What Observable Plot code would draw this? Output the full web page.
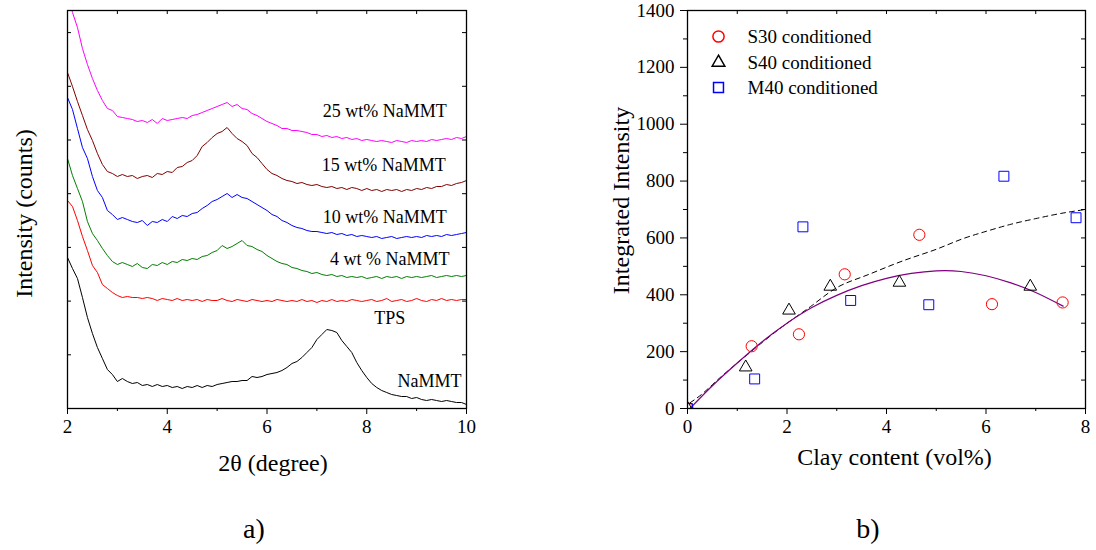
<!DOCTYPE html>
<html><head><meta charset="utf-8">
<script src="https://cdn.jsdelivr.net/npm/d3@7"></script>
<script src="https://cdn.jsdelivr.net/npm/@observablehq/plot@0.6"></script>
<style>
body{margin:0;background:#fff;font-family:"Liberation Serif","Times New Roman",serif;}
#wrap{position:relative;width:1096px;height:550px;overflow:hidden;}
#pa,#pb{position:absolute;top:0;}
#pa{left:0}#pb{left:548px}
.cap{position:absolute;top:515px;font-size:28px;line-height:1;transform:translateX(-50%);}
</style></head><body>
<div id="wrap"><div id="pa"></div><div id="pb"></div>
<div class="cap" style="left:254px">a)</div><div class="cap" style="left:868px">b)</div></div>
<script>
// ---------- panel a) XRD patterns ----------
const theta = [2.0,2.1,2.2,2.3,2.4,2.5,2.6,2.7,2.8,2.9,3.0,3.1,3.2,3.3,3.4,3.5,3.6,3.7,3.8,3.9,4.0,4.1,4.2,4.3,4.4,4.5,4.6,4.7,4.8,4.9,5.0,5.1,5.2,5.3,5.4,5.5,5.6,5.7,5.8,5.9,6.0,6.1,6.2,6.3,6.4,6.5,6.6,6.7,6.8,6.9,7.0,7.1,7.2,7.3,7.4,7.5,7.6,7.7,7.8,7.9,8.0,8.1,8.2,8.3,8.4,8.5,8.6,8.7,8.8,8.9,9.0,9.1,9.2,9.3,9.4,9.5,9.6,9.7,9.8,9.9,10.0];
const mmt25 = [420,396,381,360,344,330,318,308,300,298, 292,291,290,289,287,288,286,289,285,290, 288,289,290,291,290,293,294,296,298,300, 302,304,306,302,304,300,299,295,293,290, 287,285,283,280,280,278,278,277,276,274, 274,272,273,271,272,270,271,269,270,268, 269,268,267,268,267,266,268,267,266,268, 267,268,267,269,268,269,270,269,271,270, 272];
const mmt15 = [336,322,307,293,279,268,255,244,237,235, 232,234,232,233,230,232,233,231,235,234, 237,236,241,242,246,248,253,262,266,271, 275,277,281,275,270,267,263,255,251,245, 239,235,233,230,228,227,225,226,224,223, 224,222,221,222,220,221,219,221,220,218, 220,218,219,217,219,218,219,217,219,218, 220,219,221,220,222,222,224,223,225,226, 228];
const mmt10 = [311,299,280,261,250,232,218,211,198,194, 189,191,189,187,186,188,183,187,186,189, 187,192,190,193,192,195,196,200,203,207, 209,212,215,211,214,211,210,207,204,201, 198,194,192,188,186,183,181,180,178,177, 177,176,175,176,174,175,173,174,172,173, 172,171,172,170,171,172,170,171,172,171, 172,171,173,172,173,172,174,173,174,175, 176];
const mmt4 = [250,233,220,207,187,175,168,160,153,147, 144,146,144,142,145,141,140,144,143,146, 144,147,146,149,148,150,149,152,153,156, 158,163,160,162,165,168,163,162,159,157, 153,150,147,145,144,141,140,138,137,135, 136,134,133,134,132,133,131,132,131,132, 130,131,132,130,132,131,132,130,132,131, 132,131,132,133,131,132,133,132,133,132, 133];
const tps = [208,202,188,172,158,143,136,124,120,116, 113,111,112,111,111,110,111,110,108,110, 109,108,110,108,109,108,109,107,109,108, 108,110,108,107,109,108,107,109,108,107, 108,107,109,108,107,108,107,109,107,108, 106,108,107,109,107,108,107,109,108,107, 108,109,107,108,110,107,108,109,107,108, 110,108,107,109,108,110,108,109,108,109, 109];
const nammt = [151,140,130,111,91,75,61,50,39,34, 27,30,27,25,26,23,24,22,24,22, 23,21,22,20,22,21,23,21,23,22, 24,25,26,27,27,28,28,32,31,32, 34,35,36,38,41,45,47,51,56,61, 69,74,79,78,76,68,62,56,46,38, 31,25,21,18,16,14,13,12,12,10, 11,9,8,9,8,7,8,7,6,6, 4];

const seriesNames = ["25 wt% NaMMT","15 wt% NaMMT","10 wt% NaMMT","4 wt % NaMMT","TPS","NaMMT"];
const seriesColors = ["#ff00ff","#800000","#0000ff","#008000","#ff0000","#000000"];
const seriesValues = [mmt25, mmt15, mmt10, mmt4, tps, nammt];
const labelX = [8.36, 8.34, 8.36, 8.46, 8.46, 9.26];
const labelY = [297, 243, 191, 149, 90, 27];

const xTicksA = [2,4,6,8,10];
const xMinorA = [3,5,7,9];
const xTopA = [3,4,5,6,7,8,9];
const yTicksA = [53.7,107.4,161.1,214.8,268.5,322.2,375.9];

// ---------- panel b) integrated intensity ----------
const s30X = [0, 1.29, 2.24, 3.16, 4.66, 6.12, 7.54];
const s30Y = [0, 219, 261, 472, 611, 367, 373];
const s40X = [0, 1.17, 2.04, 2.87, 4.26, 6.89];
const s40Y = [0, 145, 345, 429, 443, 429];
const m40X = [0, 1.35, 2.32, 3.28, 4.85, 6.36, 7.81];
const m40Y = [0, 104, 639, 380, 365, 817, 671];
const fitX = [0.05,0.5,1.0,1.5,2.0,2.5,3.0,3.5,4.0,4.5,5.0,5.5,6.0,6.5,7.0,7.55];
const fitY = [0,80,160,235,300,355,398,432,458,475,484,482,467,442,408,360];
const dashX = [0.05,0.3,0.6,1.0,1.5,2.0,2.5,3.0,3.5,4.0,4.5,5.0,5.5,6.0,6.5,7.0,7.5,8.0];
const dashY = [20,52,100,160,232,300,362,425,462,497,530,560,595,623,648,668,686,700];
const legendNames = ["S30 conditioned","S40 conditioned","M40 conditioned"];
const xTicksB = [0,2,4,6,8];
const xMinorB = [1,3,5,7];
const yTicksB = [0,200,400,600,800,1000,1200,1400];
const yMinorB = [100,300,500,700,900,1100,1300];
const xTopB = [1,2,3,4,5,6,7];
const yRightB = [100,200,300,400,500,600,700,800,900,1000,1100,1200,1300];

const FONT = "'Liberation Serif','Times New Roman',serif";
const W = 548, H = 480;
const style = {fontFamily: FONT, fontSize: "19px", color: "#000", background: "#fff", overflow: "visible"};
const zip = (xs, ys) => xs.map((x, i) => ({x, y: ys[i]}));

// panel a
const pw = 399, ph = 398;
const marksA = seriesValues.map((vals, k) =>
  Plot.line(theta.map((t, i) => ({t, v: vals[i]})), {x: "t", y: "v", stroke: seriesColors[k], strokeWidth: 1, clip: true}));
const labelsA = seriesNames.map((n, i) => ({n, x: labelX[i], y: labelY[i]}));
const plotA = Plot.plot({
  width: W, height: H, marginLeft: 67, marginRight: 82, marginTop: 10, marginBottom: 72,
  style,
  x: {domain: [2, 10]},
  y: {domain: [0, 398], axis: null},
  marks: [
    ...marksA,
    Plot.frame({stroke: "#000", strokeWidth: 1.3}),
    Plot.axisX(xTicksA, {anchor: "bottom", tickSize: 6, tickPadding: 5, fontSize: 19, label: null}),
    Plot.axisX(xMinorA, {anchor: "bottom", tickSize: 3, tickFormat: () => "", label: null}),
    Plot.tickX(xTopA, {x: d => d, insetBottom: ph - 4, stroke: "#000"}),
    Plot.tickY(yTicksA, {y: d => d, insetRight: pw - 4, stroke: "#000"}),
    Plot.tickY(yTicksA, {y: d => d, insetLeft: pw - 4, stroke: "#000"}),
    Plot.text(labelsA, {x: "x", y: "y", text: "n", fontSize: 18, textAnchor: "middle", lineAnchor: "middle", fill: "#000"}),
    Plot.text(["2θ (degree)"], {frameAnchor: "bottom", dy: 55, dx: 6, fontSize: 24, textAnchor: "middle", lineAnchor: "middle", fill: "#000"}),
    Plot.text(["Intensity (counts)"], {frameAnchor: "left", rotate: -90, dx: -43, dy: 4, fontSize: 24, textAnchor: "middle", lineAnchor: "middle", fill: "#000"})
  ]
});
document.getElementById("pa").appendChild(plotA);

// panel b
const qw = 398, qh = 398;
const plotB = Plot.plot({
  width: W, height: H, marginLeft: 139, marginRight: 11, marginTop: 10, marginBottom: 72,
  style,
  x: {domain: [0, 8]},
  y: {domain: [0, 1400]},
  marks: [
    Plot.line(zip(dashX, dashY), {x: "x", y: "y", stroke: "#000", strokeWidth: 1, strokeDasharray: "5,4", curve: "natural", clip: true}),
    Plot.line(zip(fitX, fitY), {x: "x", y: "y", stroke: "#800080", strokeWidth: 1.2, curve: "natural", clip: true}),
    Plot.dot(zip(s30X, s30Y), {x: "x", y: "y", symbol: "circle", r: 5.6, stroke: "#ff0000", fill: "none", strokeWidth: 1, clip: true}),
    Plot.dot(zip(s40X, s40Y), {x: "x", y: "y", symbol: "triangle", r: 4.7, stroke: "#000", fill: "none", strokeWidth: 1, clip: true}),
    Plot.dot(zip(m40X, m40Y), {x: "x", y: "y", symbol: "square", r: 5.6, stroke: "#0000ff", fill: "none", strokeWidth: 1, clip: true}),
    Plot.frame({stroke: "#000", strokeWidth: 1.3}),
    Plot.axisX(xTicksB, {anchor: "bottom", tickSize: 6, tickPadding: 5, fontSize: 19, label: null}),
    Plot.axisX(xMinorB, {anchor: "bottom", tickSize: 3, tickFormat: () => "", label: null}),
    Plot.axisY(yTicksB, {anchor: "left", tickSize: 7, tickPadding: 6, fontSize: 19, label: null, tickFormat: d => String(d)}),
    Plot.axisY(yMinorB, {anchor: "left", tickSize: 4, tickFormat: () => "", label: null}),
    Plot.tickX(xTopB, {x: d => d, insetBottom: qh - 4, stroke: "#000"}),
    Plot.tickY(yRightB, {y: d => d, insetLeft: qw - 4, stroke: "#000"}),
    Plot.dot([0], {frameAnchor: "top-left", dx: 31, dy: 26, symbol: "circle", r: 5.6, stroke: "#ff0000", fill: "none"}),
    Plot.dot([0], {frameAnchor: "top-left", dx: 31, dy: 52, symbol: "triangle", r: 4.7, stroke: "#000", fill: "none"}),
    Plot.dot([0], {frameAnchor: "top-left", dx: 31, dy: 77, symbol: "square", r: 5.6, stroke: "#0000ff", fill: "none"}),
    Plot.text([legendNames[0]], {frameAnchor: "top-left", dx: 60, dy: 26, textAnchor: "start", lineAnchor: "middle", fontSize: 19, fill: "#000"}),
    Plot.text([legendNames[1]], {frameAnchor: "top-left", dx: 60, dy: 52, textAnchor: "start", lineAnchor: "middle", fontSize: 19, fill: "#000"}),
    Plot.text([legendNames[2]], {frameAnchor: "top-left", dx: 60, dy: 77, textAnchor: "start", lineAnchor: "middle", fontSize: 19, fill: "#000"}),
    Plot.text(["Clay content (vol%)"], {frameAnchor: "bottom", dy: 49, dx: 8, fontSize: 24, textAnchor: "middle", lineAnchor: "middle", fill: "#000"}),
    Plot.text(["Integrated Intensity"], {frameAnchor: "left", rotate: -90, dx: -66, dy: -9, fontSize: 24, textAnchor: "middle", lineAnchor: "middle", fill: "#000"})
  ]
});
document.getElementById("pb").appendChild(plotB);
</script>
</body></html>
